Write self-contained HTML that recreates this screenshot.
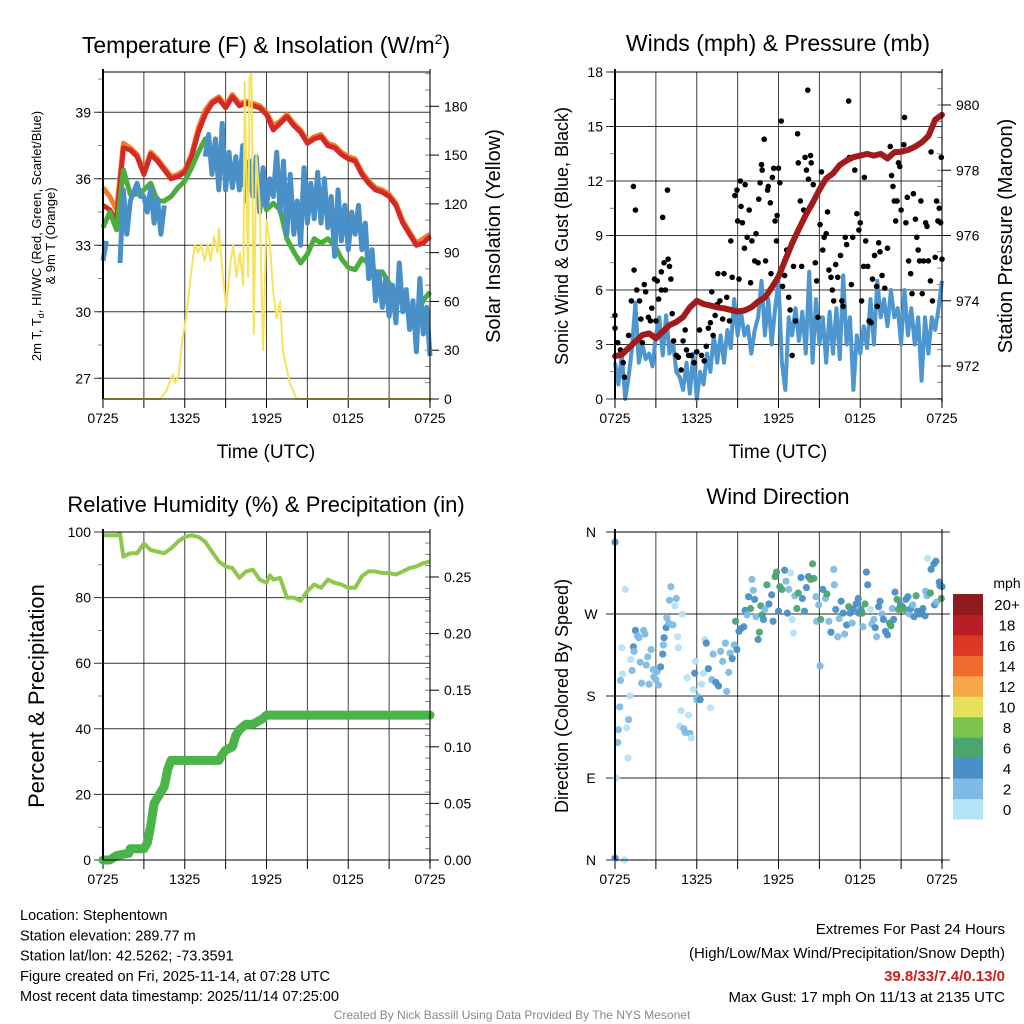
<!DOCTYPE html>
<html><head><meta charset="utf-8"><style>
html,body{margin:0;padding:0;background:#fff;}
svg{display:block;font-family:"Liberation Sans",sans-serif;}
</style></head><body>
<svg id="root" width="1024" height="1024" viewBox="0 0 1024 1024" xmlns="http://www.w3.org/2000/svg"></svg>
<script>
// ---------- DATA ----------
const tempHours = [0,0.5,1,1.5,2,2.5,3,3.5,4,4.5,5,5.5,6,6.5,7,7.5,8,8.5,9,9.5,10,10.5,11,11.5,12,12.5,13,13.5,14,14.5,15,15.5,16,16.5,17,17.5,18,18.5,19,19.5,20,20.5,21,21.5,22,22.5,23,23.5,24];
const tempRed = [34.8,34.6,34.1,37.4,37.3,37.0,36.2,37.1,36.8,36.4,36.0,36.1,36.3,37.0,38.1,38.9,39.4,39.6,39.2,39.7,39.3,39.4,39.3,39.2,38.9,38.2,38.5,38.8,38.4,38.1,37.6,37.8,37.9,37.5,37.4,37.1,36.9,36.8,36.2,35.8,35.5,35.4,35.2,34.8,34.0,33.5,33.0,33.1,33.4];
const tempOrange = [35.6,35.2,34.6,37.6,37.4,37.1,36.3,37.2,36.9,36.5,36.1,36.2,36.4,37.1,38.3,39.1,39.5,39.7,39.3,39.8,39.4,39.5,39.4,39.3,39.0,38.4,38.6,38.9,38.5,38.2,37.7,37.9,38.0,37.6,37.5,37.2,37.0,36.9,36.3,35.9,35.6,35.5,35.3,34.9,34.1,33.6,33.1,33.3,33.5];
const tempGreen = [33.8,34.5,33.7,36.4,35.3,35.3,35.5,35.8,35.0,35.0,35.2,35.6,35.9,36.5,37.2,37.8,37.3,37.1,36.2,36.0,36.0,35.6,35.5,35.6,34.6,34.9,34.6,33.3,32.7,32.2,32.6,33.3,33.1,33.3,33.0,32.4,32.0,31.9,32.4,32.2,31.8,31.8,31.3,30.8,30.4,30.1,29.8,30.5,30.9];
const chillHours = [0,0.25,0.5,0.75,1,1.25,1.5,1.75,2,2.25,2.5,2.75,3,3.25,3.5,3.75,4,4.25,4.5,4.75,5,5.25,5.5,5.75,6,6.25,6.5,6.75,7,7.25,7.5,7.75,8,8.25,8.5,8.75,9,9.25,9.5,9.75,10,10.25,10.5,10.75,11,11.25,11.5,11.75,12,12.25,12.5,12.75,13,13.25,13.5,13.75,14,14.25,14.5,14.75,15,15.25,15.5,15.75,16,16.25,16.5,16.75,17,17.25,17.5,17.75,18,18.25,18.5,18.75,19,19.25,19.5,19.75,20,20.25,20.5,20.75,21,21.25,21.5,21.75,22,22.25,22.5,22.75,23,23.25,23.5,23.75,24];
const chillBlue = [32.3,33.2,null,null,null,32.2,35.5,33.5,35.0,35.4,35.8,35.2,35.2,34.5,35.6,34.0,35.1,33.5,34.8,null,null,null,null,null,null,null,null,null,null,null,37.0,38.0,36.2,37.8,35.5,38.5,35.5,37.2,35.6,37.0,35.5,37.5,35.0,36.8,35.2,37.0,34.5,36.5,34.8,36.0,35.2,37.2,34.5,36.8,33.5,36.2,33.5,35.0,33.0,36.5,34.0,35.8,34.2,36.3,34.0,36.0,33.8,35.2,32.5,35.5,33.2,34.8,32.8,34.5,33.5,34.8,32.8,34.0,31.5,32.8,30.5,31.8,30.2,31.5,29.8,31.2,29.5,32.2,30.0,31.0,29.2,30.5,28.2,31.5,29.0,30.2,28.0];
const solarHours = [0,4.2,4.65,5.1,5.3,5.55,5.8,6.1,6.5,6.75,6.98,7.2,7.45,7.7,7.9,8.15,8.4,8.5,8.75,9.06,9.3,9.55,9.8,10.05,10.3,10.4,10.65,10.75,10.9,11.07,11.25,11.5,11.75,12.0,12.25,12.5,12.75,13.0,13.2,13.7,14.2,24];
const solarVals = [0,0,5,15,10,15,35,50,80,95,90,95,85,95,85,100,90,105,80,55,80,95,75,90,70,195,75,198,200,40,150,120,30,110,95,65,50,60,30,10,0,0];
const pressHours = tempHours;
const pressVals = [972.3,972.35,972.55,972.75,972.95,973.0,972.85,973.05,973.25,973.35,973.5,973.8,974.0,973.9,973.85,973.8,973.77,973.72,973.67,973.7,973.8,973.97,974.1,974.4,974.74,975.25,975.76,976.2,976.63,977.0,977.4,977.75,977.9,978.16,978.3,978.4,978.45,978.5,978.45,978.5,978.36,978.55,978.57,978.62,978.72,978.85,979.05,979.55,979.7];
const windHours = chillHours;
const windVals = [2.0,0.8,2.5,0.0,1.2,2.8,5.3,2.0,3.0,2.2,2.5,1.8,3.5,4.5,2.4,4.6,2.5,3.2,1.5,1.2,0.5,2.0,0.3,2.5,0.0,1.5,0.8,2.5,1.5,3.5,2.0,3.5,2.0,3.8,2.8,5.5,3.5,4.8,3.5,4.0,2.5,3.8,4.5,6.5,3.5,5.5,3.0,5.0,6.5,2.0,0.5,4.5,3.5,5.0,3.2,4.8,2.5,7.0,2.0,5.5,3.0,4.5,2.0,4.8,2.5,5.0,2.2,6.8,3.0,4.5,0.5,3.5,2.5,4.0,2.8,5.5,3.0,6.5,4.5,5.5,4.0,6.0,4.5,5.0,3.0,6.0,3.5,5.0,3.0,4.5,1.0,4.5,2.5,4.5,3.8,5.0,6.5];
const gustHours = [0,0,0.2,0.4,0.6,0.7,1.0,1.2,1.35,1.5,1.4,1.6,1.8,1.9,2.0,2.15,2.25,2.45,2.6,2.7,2.9,3.0,3.1,3.2,3.4,3.4,3.5,3.6,3.7,3.85,3.9,4.0,4.1,4.2,4.3,4.5,4.65,4.85,5.0,5.15,5.25,5.4,5.6,5.8,6.0,6.2,6.35,6.55,6.7,6.85,7.0,7.1,7.2,7.35,7.5,7.55,7.7,7.9,8.0,8.2,8.4,8.5,8.6,8.8,8.95,9.0,9.1,9.2,9.25,9.35,9.5,9.55,9.7,9.85,9.95,10.05,10.25,10.35,10.5,10.55,10.65,10.75,10.8,10.95,11.05,11.2,11.25,11.4,11.45,11.55,11.65,11.75,11.85,11.9,12.0,12.1,12.2,12.3,12.45,12.6,12.75,12.85,13.0,13.1,13.25,13.4,13.45,13.6,13.7,13.85,13.95,14.05,14.15,14.2,14.35,14.4,14.55,14.7,14.8,14.9,15.05,15.15,15.25,15.35,15.5,15.6,15.7,15.85,15.95,16.05,16.2,16.35,16.55,16.65,16.75,16.9,17.0,17.15,17.2,17.35,17.45,17.6,17.75,17.9,18.0,18.1,18.25,18.3,18.4,18.55,18.65,18.8,18.9,19.05,19.2,19.25,19.35,19.45,19.6,19.8,20.0,20.2,20.3,20.4,20.5,20.6,20.7,20.8,20.9,21.0,21.2,21.25,21.35,21.45,21.55,21.7,21.8,21.9,22.05,22.15,22.25,22.35,22.45,22.55,22.65,22.8,22.9,23.0,23.15,23.2,23.3,23.5,23.6,23.7,23.8,23.9,23.95,24.0];
const gustVals = [4.6,3.9,3.1,2.7,2.0,1.2,3.5,5.4,11.7,10.4,7.1,6.0,5.4,4.4,3.1,6.3,5.9,4.5,4.3,5.0,6.6,4.3,6.5,5.5,7.0,6.0,10.0,7.5,6.0,11.5,7.7,7.3,6.6,4.7,3.2,2.4,2.3,1.6,3.2,3.8,2.7,2.4,2.4,2.0,2.6,3.8,2.4,2.1,2.9,3.9,4.2,5.9,3.5,4.6,5.2,6.9,5.4,4.4,6.9,5.6,4.3,8.7,6.7,11.2,11.5,9.8,6.6,12.0,10.6,9.7,8.3,11.8,8.9,10.4,6.4,8.7,7.6,9.1,7.5,11.0,11.9,12.9,12.6,14.3,7.6,11.5,11.7,10.8,6.9,12.2,12.7,9.8,8.7,10.1,12.7,11.9,15.3,6.2,6.8,8.2,5.6,4.9,2.4,7.3,4.3,14.6,13.0,10.9,7.3,10.4,13.3,12.6,17.0,12.1,13.4,13.0,11.8,7.5,6.5,4.5,9.6,12.5,8.2,8.9,9.1,10.3,7.1,6.7,6.0,5.4,7.4,6.7,7.9,5.4,5.1,8.9,8.5,16.4,13.3,6.3,8.9,12.6,10.2,9.3,9.7,5.4,7.3,12.2,8.7,7.3,4.3,4.2,6.6,7.9,6.2,5.1,8.6,8.1,6.8,6.1,8.3,13.9,12.3,11.7,10.9,9.8,10.9,13.0,12.8,10.4,14.0,15.5,9.7,11.1,7.6,6.9,5.8,11.3,9.9,8.9,8.2,7.6,10.9,5.8,7.6,9.7,9.5,7.6,6.5,13.6,5.4,7.8,10.9,9.8,10.5,9.7,13.3,7.7];
const rhHours = [0,0.5,1,1.25,1.5,2,2.5,3,3.5,4,4.5,5,5.5,6,6.5,7,7.5,8,8.5,9,9.5,10,10.5,11,11.5,12,12.25,12.5,13,13.5,14,14.5,15,15.5,16,16.5,17,17.5,18,18.5,19,19.5,20,20.5,21,21.5,22,22.5,23,23.5,24];
const rhVals = [99,99,99,99.5,92.5,93.5,93.5,96.5,94.5,94,93.5,95,97,98.5,99,98.5,97,94,91,89.5,89,86,88,88.5,85.5,84.5,86.8,85.5,86,80,80,79,82,84,83,85.5,84.5,84,83,83,86.5,88,88,87.5,87.5,87,88,89,89.5,90.5,91];
const precipHours = [0,0.5,1,1.9,2,3,3.25,3.5,3.75,4,4.25,4.5,4.75,5,8.5,8.75,9,9.5,9.75,10,10.5,11,11.75,12,24];
const precipVals = [0,0,0.004,0.006,0.01,0.01,0.015,0.03,0.05,0.055,0.06,0.065,0.08,0.088,0.088,0.093,0.097,0.1,0.11,0.115,0.12,0.12,0.125,0.128,0.128];
const dirHours = [0,0,0.7,0.1,0.2,0.25,0.35,0.4,0.55,0.5,0.75,0.85,0.95,1.0,1.1,1.15,1.25,1.35,1.4,1.5,1.65,1.75,1.85,1.95,2.1,2.2,2.3,2.4,2.5,2.65,2.8,2.85,3.0,3.1,3.2,3.35,3.5,3.55,3.6,3.75,3.8,3.95,4.0,4.1,4.25,4.4,4.5,4.6,4.65,4.75,4.85,4.95,5.05,5.15,5.3,5.4,5.5,5.6,5.75,5.85,5.9,6.0,6.1,6.25,6.35,6.5,6.6,6.7,6.85,7.0,7.1,7.2,7.4,7.6,7.75,7.9,8.1,8.2,8.35,8.45,8.6,8.75,8.85,8.95,9.1,9.25,9.45,9.55,9.7,9.8,9.95,10.05,10.15,10.25,10.35,10.5,10.6,10.7,10.8,10.9,11.0,11.15,11.3,11.5,11.6,11.75,11.85,12.0,12.1,12.25,12.45,12.55,12.65,12.75,12.9,13.0,13.1,13.2,13.35,13.45,13.65,13.75,13.9,14.05,14.2,14.35,14.5,14.6,14.75,14.8,14.95,15.05,15.1,15.25,15.45,15.55,15.7,15.85,16.05,16.1,16.2,16.35,16.45,16.6,16.75,16.85,17.0,17.15,17.25,17.4,17.5,17.7,17.85,17.9,18.05,18.15,18.2,18.35,18.45,18.55,18.75,18.85,19.0,19.1,19.2,19.35,19.45,19.6,19.7,19.85,20.0,20.15,20.25,20.35,20.45,20.55,20.7,20.8,20.95,21.1,21.25,21.35,21.5,21.6,21.7,21.85,21.95,22.1,22.2,22.35,22.5,22.6,22.75,22.8,22.9,23.0,23.15,22.95,23.2,23.4,23.55,23.45,23.6,23.8,23.85,23.95,24.0];
const dirDeg = [349,2,0,90,129,143,168,197,204,233,297,145,112,154,180,220,208,234,229,252,246,244,217,194,252,248,214,223,193,231,209,201,198,207,192,212,226,236,244,255,266,260,285,300,258,279,287,245,233,147,164,270,144,140,200,159,139,134,187,205,218,176,179,176,193,205,242,238,210,167,198,226,195,191,229,218,238,185,206,227,221,236,262,231,251,254,256,274,269,289,276,308,296,286,267,242,250,279,269,264,275,302,281,291,262,311,316,273,300,297,318,306,271,297,315,264,249,290,276,293,310,287,273,299,311,308,325,309,289,262,280,213,264,297,287,292,262,250,319,302,275,245,265,284,271,248,258,278,271,260,275,281,287,271,275,271,256,281,316,302,275,259,264,255,245,278,284,270,264,251,247,260,257,276,264,294,286,275,280,278,275,286,289,270,276,280,267,290,273,270,273,276,268,295,290,293,293,331,319,325,328,280,283,305,301,287,300];
const dirSpeedBin = [2,2,0,0,1,1,1,1,0,0,0,0,0,1,0,0,1,2,1,2,1,1,1,1,1,1,1,1,1,1,1,1,1,1,1,2,2,1,2,2,1,1,1,1,1,0,1,0,0,0,0,0,1,1,0,0,1,0,0,2,0,1,1,2,0,0,0,2,2,0,1,1,2,2,1,1,1,1,1,1,2,1,3,2,2,2,2,2,1,2,3,1,1,2,1,2,3,3,3,2,1,3,2,2,2,3,3,2,3,3,2,1,2,1,0,0,0,1,3,3,2,2,2,2,2,3,3,3,1,1,1,1,3,2,1,3,1,2,1,1,2,1,1,2,2,1,2,3,2,1,2,2,2,2,2,3,1,3,2,2,0,1,1,2,1,2,2,1,2,2,2,3,3,1,2,2,3,3,2,3,3,2,2,1,2,1,2,3,2,2,2,2,2,1,1,1,3,0,2,2,2,2,1,2,2,3,2];
const speedBinColors = ["#b3e3f7","#7fbbe4","#4a8fc6","#4aa56f","#7bc34a","#e6e05a","#f5a747","#ef6a2c","#dd3728","#b81e24","#8e1a1b"];
const speedBinLabels = ["0","2","4","6","8","10","12","14","16","18","20+"];
const timeTickLabels = ["0725","1325","1925","0125","0725"];
const tempTicks = [27,30,33,36,39];
const solarTicks = [0,30,60,90,120,150,180];
const windTicks = [0,3,6,9,12,15,18];
const pressTicks = [972,974,976,978,980];
const rhTicks = [0,20,40,60,80,100];
const precipTicks = [0,0.05,0.10,0.15,0.20,0.25];
const dirTicks = [0,90,180,270,360];
const dirLabels = ["N","E","S","W","N"];

// ---------- HELPERS ----------
const NS = "http://www.w3.org/2000/svg";
const root = document.getElementById('root');
function mk(tag, attrs, parent, name, inter) {
  const e = document.createElementNS(NS, tag);
  for (const k in attrs) e.setAttribute(k, attrs[k]);
  
  
  (parent || root).appendChild(e);
  return e;
}
function txt(x, y, s, size, anchor, name, extra) {
  const t = mk('text', Object.assign({x: x, y: y, 'font-size': size, 'text-anchor': anchor || 'middle', fill: '#000'}, extra || {}), root, name, false);
  t.textContent = s;
  return t;
}
function vtxt(x, y, s, size, name) {
  const t = mk('text', {x: 0, y: 0, 'font-size': size, 'text-anchor': 'middle', fill: '#000', transform: 'translate(' + x + ',' + y + ') rotate(-90)'}, root, name, false);
  t.textContent = s;
  return t;
}
function lin(d0, d1, r0, r1) { return v => r0 + (v - d0) / (d1 - d0) * (r1 - r0); }
function pathOf(xs, ys, fx, fy) {
  let d = '', pen = false;
  for (let i = 0; i < xs.length; i++) {
    if (ys[i] === null) { pen = false; continue; }
    d += (pen ? 'L' : 'M') + fx(xs[i]).toFixed(1) + ',' + fy(ys[i]).toFixed(1);
    pen = true;
  }
  return d;
}
function frame(P, name) {
  const g = mk('g', {}, root, name + '-grid', false);
  const fx = lin(0, 24, P.x0, P.x1);
  for (let h = 3; h < 24; h += 3) {
    mk('line', {x1: fx(h), x2: fx(h), y1: P.y0, y2: P.y1, stroke: '#000', 'stroke-width': 1, 'stroke-opacity': 0.75}, g, 'vertical-gridline', false);
  }
  for (let h = 0; h <= 24; h += 3) {
    mk('line', {x1: fx(h), x2: fx(h), y1: P.y1, y2: P.y1 + 9, stroke: '#000', 'stroke-width': 1}, g, 'x-tick', false);
  }
  for (let i = 0; i < timeTickLabels.length; i++) {
    txt(fx(i * 6), P.y1 + 24, timeTickLabels[i], 14, 'middle', 'x-tick-label');
  }
  return fx;
}
function hgrid(P, ticks, fy, labels, side, name, gridOn) {
  for (let i = 0; i < ticks.length; i++) {
    const y = fy(ticks[i]);
    if (gridOn) mk('line', {x1: P.x0 - 9, x2: P.x1, y1: y, y2: y, stroke: '#000', 'stroke-width': 1, 'stroke-opacity': 0.8}, root, name + '-gridline', false);
    if (side === 'left') {
      txt(P.x0 - 12, y + 5, labels[i], 14, 'end', name + '-tick-label');
    } else {
      mk('line', {x1: P.x1, x2: P.x1 + 9, y1: y, y2: y, stroke: '#000', 'stroke-width': 1}, root, name + '-tick', false);
      txt(P.x1 + 14, y + 5, labels[i], 14, 'start', name + '-tick-label');
    }
  }
}
function minor(P, from, to, step, fy, side) {
  for (let v = from; v <= to + 1e-9; v += step) {
    const y = fy(v);
    if (y < P.y0 - 0.5 || y > P.y1 + 0.5) continue;
    if (side === 'left') mk('line', {x1: P.x0 - 5, x2: P.x0, y1: y, y2: y, stroke: '#000', 'stroke-width': 0.8, 'stroke-opacity': 0.6}, root, 'minor-tick', false);
    else mk('line', {x1: P.x1 - 5, x2: P.x1, y1: y, y2: y, stroke: '#000', 'stroke-width': 0.8, 'stroke-opacity': 0.6}, root, 'minor-tick', false);
  }
}
function border(P, name) {
  mk('line', {x1: P.x0, x2: P.x0, y1: P.y0 - 3, y2: P.y1, stroke: '#000', 'stroke-width': 2}, root, name + '-left-axis', false);
  mk('line', {x1: P.x1, x2: P.x1, y1: P.y0 - 3, y2: P.y1 + 3, stroke: '#000', 'stroke-width': 1.5, 'stroke-opacity': 0.7}, root, name + '-right-axis', false);
  mk('line', {x1: P.x0, x2: P.x1, y1: P.y1, y2: P.y1, stroke: '#000', 'stroke-width': 1}, root, name + '-bottom-axis', false);
  mk('line', {x1: P.x0, x2: P.x1, y1: P.y0, y2: P.y0, stroke: '#000', 'stroke-width': 1}, root, name + '-top-axis', false);
}

// ---------- PANEL 1: TEMPERATURE ----------
const P1 = {x0: 103, x1: 430, y0: 72, y1: 399};
const fx1 = frame(P1, 'temp');
const fyT = lin(39, 27, 112.3, 378.3);
const fyS = lin(0, 180, 399, 106.3);
hgrid(P1, tempTicks, fyT, tempTicks.map(String), 'left', 'temp-y', true);
hgrid(P1, solarTicks, fyS, solarTicks.map(String), 'right', 'solar-y', false);
minor(P1, 25.5, 42, 1.5, fyT, 'left');
minor(P1, 10, 200, 10, fyS, 'right');
mk('path', {d: pathOf(tempHours, tempOrange, fx1, fyT), fill: 'none', stroke: '#f07d2a', 'stroke-width': 5, 'stroke-linejoin': 'round'}, root, 'temp-9m-orange-line', false);
mk('path', {d: pathOf(tempHours, tempRed, fx1, fyT), fill: 'none', stroke: '#d42a25', 'stroke-width': 5, 'stroke-linejoin': 'round'}, root, 'temp-2m-red-line', false);
mk('path', {d: pathOf(tempHours, tempGreen, fx1, fyT), fill: 'none', stroke: '#4cad3c', 'stroke-width': 5, 'stroke-linejoin': 'round'}, root, 'dewpoint-green-line', false);
mk('path', {d: pathOf(chillHours, chillBlue, fx1, fyT), fill: 'none', stroke: '#4a90c8', 'stroke-width': 5, 'stroke-linejoin': 'round'}, root, 'windchill-blue-line', false);
mk('path', {d: pathOf(solarHours, solarVals, fx1, fyS), fill: 'none', stroke: '#f7e35a', 'stroke-width': 2, 'stroke-linejoin': 'round'}, root, 'solar-yellow-line', false);
border(P1, 'temp');
const t1 = txt(266, 53, 'Temperature (F) & Insolation (W/m', 23, 'middle', 'temp-panel-title');
const sup = document.createElementNS(NS, 'tspan'); sup.setAttribute('dy', '-9'); sup.setAttribute('font-size', '14'); sup.textContent = '2'; t1.appendChild(sup);
const cl = document.createElementNS(NS, 'tspan'); cl.setAttribute('dy', '9'); cl.textContent = ')'; t1.appendChild(cl);
txt(266, 458, 'Time (UTC)', 19, 'middle', 'temp-x-title');
const yt = vtxt(41, 236, '2m T, T', 13, 'temp-y-title');
const sub = document.createElementNS(NS, 'tspan'); sub.setAttribute('dy', '3'); sub.setAttribute('font-size', '9'); sub.textContent = 'd'; yt.appendChild(sub);
const rest = document.createElementNS(NS, 'tspan'); rest.setAttribute('dy', '-3'); rest.textContent = ', HI/WC (Red, Green, Scarlet/Blue)'; yt.appendChild(rest);
vtxt(55, 236, '& 9m T (Orange)', 13, 'temp-y-title-line2');
vtxt(500, 236, 'Solar Insolation (Yellow)', 20, 'solar-y-title');

// ---------- PANEL 2: WINDS ----------
const P2 = {x0: 615, x1: 942, y0: 72, y1: 399};
const fx2 = frame(P2, 'wind');
const fyW = lin(0, 18, 399, 72);
const fyP = lin(972, 980, 366, 105);
hgrid(P2, windTicks, fyW, windTicks.map(String), 'left', 'wind-y', true);
hgrid(P2, pressTicks, fyP, pressTicks.map(String), 'right', 'pressure-y', false);
minor(P2, 970, 981, 0.5, fyP, 'right');
minor(P2, 1.5, 18, 1.5, fyW, 'left');
mk('path', {d: pathOf(windHours, windVals, fx2, fyW), fill: 'none', stroke: '#4d96d0', 'stroke-width': 4, 'stroke-linejoin': 'round'}, root, 'sonic-wind-line', false);
const gg = mk('g', {}, root, 'gust-points', false);
for (let i = 0; i < gustHours.length; i++) {
  const c = mk('circle', {cx: fx2(gustHours[i]), cy: fyW(gustVals[i]), r: 2.8, fill: '#000'}, gg, 'gust-point', false);
}
mk('path', {d: pathOf(pressHours, pressVals, fx2, fyP), fill: 'none', stroke: '#a01c1c', 'stroke-width': 6, 'stroke-linejoin': 'round', 'stroke-linecap': 'round'}, root, 'pressure-line', false);
border(P2, 'wind');
txt(778, 51, 'Winds (mph) & Pressure (mb)', 23, 'middle', 'wind-panel-title');
txt(778, 458, 'Time (UTC)', 19, 'middle', 'wind-x-title');
vtxt(568, 236, 'Sonic Wind & Gust (Blue, Black)', 18, 'wind-y-title');
vtxt(1012, 236, 'Station Pressure (Maroon)', 20, 'pressure-y-title');

// ---------- PANEL 3: RH & PRECIP ----------
const P3 = {x0: 103, x1: 430, y0: 532, y1: 860};
const fx3 = frame(P3, 'rh');
const fyR = lin(0, 100, 860, 532);
const fyQ = lin(0, 0.25, 860, 577);
hgrid(P3, rhTicks, fyR, rhTicks.map(String), 'left', 'rh-y', true);
hgrid(P3, precipTicks, fyQ, precipTicks.map(v => v.toFixed(2)), 'right', 'precip-y', false);
minor(P3, 10, 90, 20, fyR, 'left');
minor(P3, 0.01, 0.28, 0.01, fyQ, 'right');
mk('path', {d: pathOf(rhHours, rhVals, fx3, fyR), fill: 'none', stroke: '#8dc84c', 'stroke-width': 4, 'stroke-linejoin': 'round'}, root, 'rh-line', false);
mk('path', {d: pathOf(precipHours, precipVals, fx3, fyQ), fill: 'none', stroke: '#4ab44a', 'stroke-width': 9, 'stroke-linejoin': 'round', 'stroke-linecap': 'round'}, root, 'precip-line', false);
border(P3, 'rh');
txt(266, 512, 'Relative Humidity (%) & Precipitation (in)', 22, 'middle', 'rh-panel-title');
vtxt(44, 696, 'Percent & Precipitation', 22, 'rh-y-title');

// ---------- PANEL 4: WIND DIRECTION ----------
const P4 = {x0: 615, x1: 942, y0: 532, y1: 860};
const fx4 = frame(P4, 'dir');
const fyD = lin(0, 360, 860, 532);
for (let i = 0; i < dirTicks.length; i++) {
  const y = fyD(dirTicks[i]);
  mk('line', {x1: P4.x0 - 9, x2: P4.x1 + 8, y1: y, y2: y, stroke: '#000', 'stroke-width': 1, 'stroke-opacity': 0.85}, root, 'dir-gridline', false);
  txt(P4.x0 - 24, y + 5, dirLabels[i], 14, 'middle', 'dir-tick-label');
}
const dg = mk('g', {}, root, 'direction-points', false);
for (let i = 0; i < dirHours.length; i++) {
  const c = mk('circle', {cx: fx4(dirHours[i]), cy: fyD(dirDeg[i]), r: 3.6, fill: speedBinColors[dirSpeedBin[i]], 'fill-opacity': 0.95}, dg, 'direction-point', false);
}
border(P4, 'dir');
txt(778, 504, 'Wind Direction', 22, 'middle', 'dir-panel-title');
vtxt(568, 696, 'Direction (Colored By Speed)', 18, 'dir-y-title');
const cb = mk('g', {}, root, 'speed-colorbar', false);
const cbTop = 594, cbBot = 819, cbH = (cbBot - cbTop) / speedBinColors.length;
for (let i = 0; i < speedBinColors.length; i++) {
  const y = cbBot - (i + 1) * cbH;
  mk('rect', {x: 953, y: y, width: 30, height: cbH + 0.5, fill: speedBinColors[i]}, cb, 'colorbar-bin', false);
  txt(1007, y + cbH / 2 + 6, speedBinLabels[i], 15, 'middle', 'colorbar-label');
}
txt(1007, 588, 'mph', 14, 'middle', 'colorbar-title');

// ---------- FOOTER ----------
const leftLines = ['Location: Stephentown', 'Station elevation: 289.77 m', 'Station lat/lon: 42.5262; -73.3591', 'Figure created on Fri, 2025-11-14, at 07:28 UTC', 'Most recent data timestamp: 2025/11/14 07:25:00'];
for (let i = 0; i < leftLines.length; i++) txt(20, 920 + i * 20.3, leftLines[i], 14.5, 'start', 'station-info-line');
txt(1005, 934, 'Extremes For Past 24 Hours', 15, 'end', 'extremes-title');
txt(1005, 958, '(High/Low/Max Wind/Precipitation/Snow Depth)', 15, 'end', 'extremes-subtitle');
txt(1005, 981, '39.8/33/7.4/0.13/0', 15, 'end', 'extremes-values', {fill: '#cc1f1f', 'font-weight': 'bold'});
txt(1005, 1002, 'Max Gust: 17 mph On 11/13 at 2135 UTC', 15, 'end', 'max-gust');
txt(512, 1019, 'Created By Nick Bassill Using Data Provided By The NYS Mesonet', 12, 'middle', 'credit', {fill: '#888'});
</script>
</body></html>
